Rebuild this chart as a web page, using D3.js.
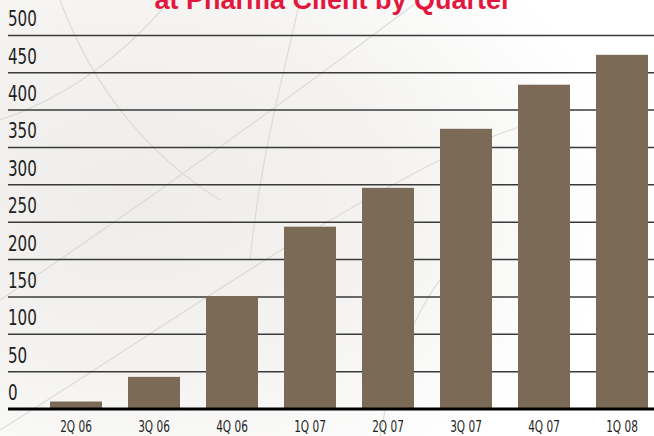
<!DOCTYPE html>
<html>
<head>
<meta charset="utf-8">
<script src="https://cdn.jsdelivr.net/npm/d3@7"></script>
<style>
  body { margin: 0; background: #fff; }
  svg { display: block; }
  .tick-label { font-family: "Liberation Sans Narrow", "DejaVu Sans Condensed", sans-serif; fill: #1e1e1e; }
</style>
</head>
<body>
<div id="chart"></div>
<script>
// chart data
var quarters = ["2Q 06", "3Q 06", "4Q 06", "1Q 07", "2Q 07", "3Q 07", "4Q 07", "1Q 08"];
var values = [10, 43, 151, 244, 296, 375, 434, 474];
var yTicks = [0, 50, 100, 150, 200, 250, 300, 350, 400, 450, 500];
var titleText = "at Pharma Client by Quarter";

var width = 654, height = 436;

var svg = d3.select("#chart").append("svg")
    .attr("width", width)
    .attr("height", height);

// soft leaf-paper background on the left, fading to white
var defs = svg.append("defs");
var grad = defs.append("radialGradient")
    .attr("id", "paper")
    .attr("cx", "0.2").attr("cy", "0.45").attr("r", "0.75");
grad.append("stop").attr("offset", "0%").attr("stop-color", "#eeedeb");
grad.append("stop").attr("offset", "55%").attr("stop-color", "#f4f3f1");
grad.append("stop").attr("offset", "100%").attr("stop-color", "#ffffff");
svg.append("rect")
    .attr("width", width).attr("height", height)
    .attr("fill", "url(#paper)");

// a few faint veins
var veins = svg.append("g")
    .attr("fill", "none")
    .attr("stroke", "#d9d7d3")
    .attr("stroke-width", 1.2)
    .attr("opacity", 0.8);
veins.append("path").attr("d", "M0,300 C120,220 260,120 420,0");
veins.append("path").attr("d", "M0,430 C160,330 300,230 440,160 C500,130 540,120 560,118");
veins.append("path").attr("d", "M60,0 C90,80 140,150 220,200");
veins.append("path").attr("d", "M300,0 C280,90 260,160 250,260");
veins.append("path").attr("d", "M0,120 C60,100 120,60 170,0");
veins.append("path").attr("d", "M380,436 C390,380 410,320 440,280");

// scales
var y = d3.scaleLinear()
    .domain([0, 500])
    .range([409, 35.4]);

var x = d3.scaleBand()
    .domain(quarters)
    .range([24, 674])
    .paddingInner(1 / 3)
    .paddingOuter(1 / 3);

// gridlines (not the zero line)
svg.append("g").selectAll("line")
    .data(yTicks.filter(function(d) { return d > 0; }))
    .join("line")
    .attr("x1", 8).attr("x2", width)
    .attr("y1", function(d) { return y(d); })
    .attr("y2", function(d) { return y(d); })
    .attr("stroke", "#3a3a3a")
    .attr("stroke-width", 1.5);

// y labels sit above their gridline, narrowed to look condensed
svg.append("g").selectAll("text")
    .data(yTicks)
    .join("text")
    .attr("class", "tick-label")
    .attr("transform", function(d) { return "translate(8," + (y(d) - 9) + ") scale(0.8,1)"; })
    .attr("font-size", 21)
    .text(function(d) { return d; });

// bars
svg.append("g").selectAll("rect")
    .data(values)
    .join("rect")
    .attr("x", function(d, i) { return x(quarters[i]); })
    .attr("y", function(d) { return y(d); })
    .attr("width", x.bandwidth())
    .attr("height", function(d) { return y(0) - y(d); })
    .attr("fill", "#7b6a55");

// baseline
svg.append("line")
    .attr("x1", 8).attr("x2", width)
    .attr("y1", y(0)).attr("y2", y(0))
    .attr("stroke", "#000")
    .attr("stroke-width", 3);

// x labels
svg.append("g").selectAll("text")
    .data(quarters)
    .join("text")
    .attr("class", "tick-label")
    .attr("transform", function(d) {
        return "translate(" + (x(d) + x.bandwidth() / 2) + ",432) scale(0.78,1)";
    })
    .attr("text-anchor", "middle")
    .attr("font-size", 15)
    .attr("fill", "#2a2a2a")
    .text(function(d) { return d; });

// title (its first line is off the top)
svg.append("text")
    .attr("x", 333)
    .attr("y", 9)
    .attr("text-anchor", "middle")
    .attr("font-family", "Liberation Sans, Arial, sans-serif")
    .attr("font-weight", "bold")
    .attr("font-size", 27)
    .attr("fill", "#e3173d")
    .text(titleText);
</script>
</body>
</html>
